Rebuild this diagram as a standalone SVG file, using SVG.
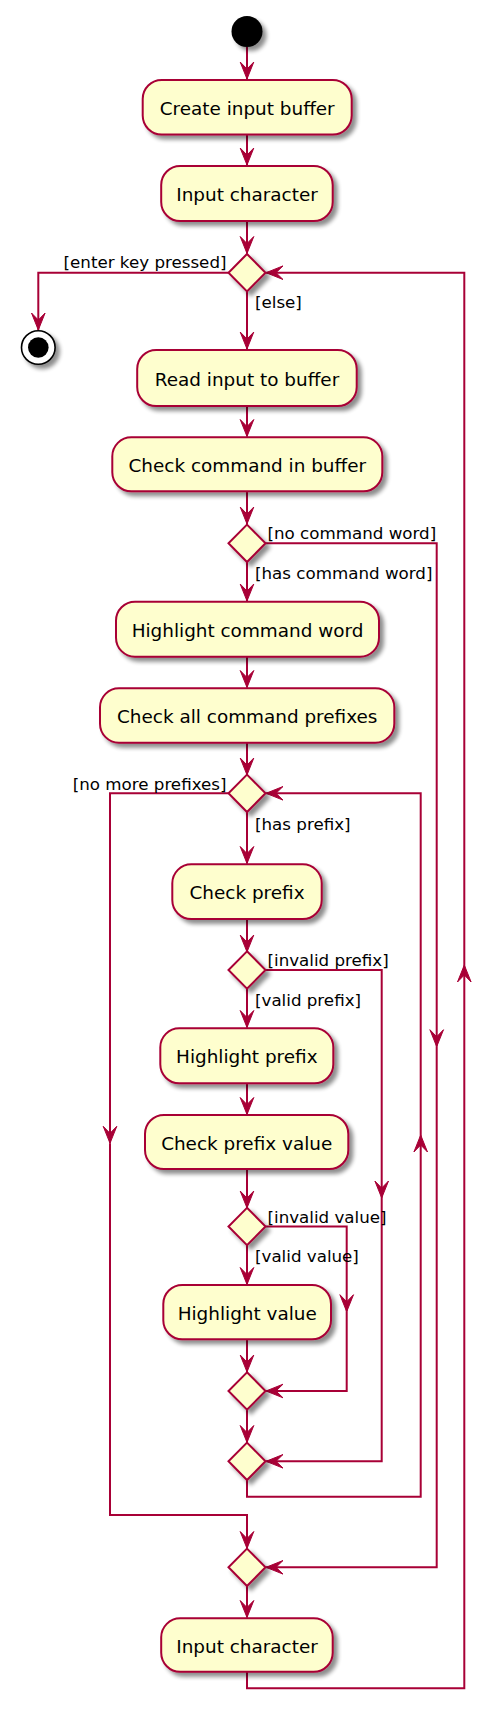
<svg xmlns="http://www.w3.org/2000/svg" width="504" height="1725" viewBox="0 0 504 1725">
<style>
.box{fill:#FEFECE;stroke:#A80036;stroke-width:2;filter:url(#sh)}
.dia{fill:#FEFECE;stroke:#A80036;stroke-width:2;filter:url(#sh)}
.t{font-family:"DejaVu Sans",sans-serif;font-size:18.4px;fill:#000;text-anchor:middle}
.l{font-family:"DejaVu Sans",sans-serif;font-size:16.7px;fill:#000}
.c{fill:none;stroke:#A80036;stroke-width:2}
.a{marker-end:url(#ah)}
</style>
<defs>
<filter id="sh" x="-30%" y="-30%" width="170%" height="170%">
<feGaussianBlur in="SourceAlpha" stdDeviation="2.2"/>
<feOffset dx="4" dy="4" result="b"/>
<feComponentTransfer><feFuncA type="linear" slope="0.45"/></feComponentTransfer>
<feMerge><feMergeNode/><feMergeNode in="SourceGraphic"/></feMerge>
</filter>
<marker id="ah" viewBox="-19 -9 21 18" refX="0" refY="0" markerWidth="21" markerHeight="18" markerUnits="userSpaceOnUse" orient="auto">
<path d="M0,0 L-17,-6.8 L-10,0 L-17,6.8 Z" fill="#A80036" stroke="#A80036" stroke-width="1"/>
</marker>
</defs>
<rect width="504" height="1725" fill="#FFFFFF"/>

<g id="connectors">
<path class="c a" d="M247,47 L247,79"/>
<path class="c a" d="M247,134.5 L247,165"/>
<path class="c a" d="M247,221 L247,253.5"/>
<path class="c a" d="M228.5,272.7 L38.3,272.7 L38.3,330"/>
<path class="c a" d="M247,291 L247,349"/>
<path class="c a" d="M247,406 L247,436.5"/>
<path class="c a" d="M247,491.5 L247,524"/>
<path class="c a" d="M265.5,543.3 L436.7,543.3 L436.7,1046.7"/>
<path class="c a" d="M436.7,1046.7 L436.7,1567.3 L266,1567.3"/>
<path class="c a" d="M247,562 L247,601"/>
<path class="c a" d="M247,657 L247,687.5"/>
<path class="c a" d="M247,743 L247,775"/>
<path class="c a" d="M228.5,793.3 L110,793.3 L110,1143.3"/>
<path class="c a" d="M110,1143.3 L110,1515 L247,1515 L247,1548.5"/>
<path class="c a" d="M247,812 L247,863.5"/>
<path class="c a" d="M247,919 L247,952"/>
<path class="c a" d="M265.5,970 L381.7,970 L381.7,1198"/>
<path class="c a" d="M381.7,1198 L381.7,1461.3 L266,1461.3"/>
<path class="c a" d="M247,988.5 L247,1027.5"/>
<path class="c a" d="M247,1083.5 L247,1114.5"/>
<path class="c a" d="M247,1169.5 L247,1208"/>
<path class="c a" d="M265.5,1226.5 L346.7,1226.5 L346.7,1311.7"/>
<path class="c a" d="M346.7,1311.7 L346.7,1391 L266,1391"/>
<path class="c a" d="M247,1245 L247,1284.5"/>
<path class="c a" d="M247,1339.5 L247,1372"/>
<path class="c a" d="M247,1410 L247,1442.5"/>
<path class="c a" d="M247,1480 L247,1496.7 L420.7,1496.7 L420.7,1135"/>
<path class="c a" d="M420.7,1135 L420.7,793.3 L266,793.3"/>
<path class="c a" d="M247,1586 L247,1617.5"/>
<path class="c a" d="M247,1672 L247,1688.3 L464.3,1688.3 L464.3,965"/>
<path class="c a" d="M464.3,965 L464.3,272.7 L266,272.7"/>
</g>

<g id="labels">
<text class="l" x="226.5" y="268" text-anchor="end">[enter key pressed]</text>
<text class="l" x="255" y="307.5">[else]</text>
<text class="l" x="267.5" y="539">[no command word]</text>
<text class="l" x="255" y="579">[has command word]</text>
<text class="l" x="226.5" y="789.5" text-anchor="end">[no more prefixes]</text>
<text class="l" x="255" y="829.5">[has prefix]</text>
<text class="l" x="267.5" y="966">[invalid prefix]</text>
<text class="l" x="255" y="1006">[valid prefix]</text>
<text class="l" x="267.5" y="1222.5">[invalid value]</text>
<text class="l" x="255" y="1262">[valid value]</text>
</g>

<g id="start"><circle cx="247" cy="31.5" r="15.5" fill="#000" filter="url(#sh)"/></g>
<g id="stop"><circle cx="38.3" cy="347.5" r="16.8" fill="#FFF" stroke="#000" stroke-width="1.6" filter="url(#sh)"/><circle cx="38.3" cy="347.5" r="10.3" fill="#000"/></g>

<g id="n1"><rect class="box" x="142.7" y="80" width="209" height="54.5" rx="19"/><text class="t" x="247.2" y="115">Create input buffer</text></g>
<g id="n2"><rect class="box" x="161.2" y="166" width="171.5" height="55" rx="19"/><text class="t" x="247" y="201">Input character</text></g>
<g id="d1"><path class="dia" d="M247,254 L265.5,272.7 L247,291.4 L228.5,272.7 Z"/></g>
<g id="n3"><rect class="box" x="137.2" y="350" width="219.5" height="56" rx="19"/><text class="t" x="247" y="386">Read input to buffer</text></g>
<g id="n4"><rect class="box" x="112.3" y="437.3" width="270" height="54" rx="19"/><text class="t" x="247.3" y="472">Check command in buffer</text></g>
<g id="d2"><path class="dia" d="M247,524.6 L265.5,543.3 L247,562 L228.5,543.3 Z"/></g>
<g id="n5"><rect class="box" x="116" y="601.7" width="263" height="55" rx="19"/><text class="t" x="247.5" y="637">Highlight command word</text></g>
<g id="n6"><rect class="box" x="100" y="688.3" width="294.3" height="54.4" rx="19"/><text class="t" x="247.2" y="723">Check all command prefixes</text></g>
<g id="d3"><path class="dia" d="M247,774.6 L265.5,793.3 L247,812 L228.5,793.3 Z"/></g>
<g id="n7"><rect class="box" x="172.3" y="864.3" width="149.4" height="54.7" rx="19"/><text class="t" x="247" y="899.3">Check prefix</text></g>
<g id="d4"><path class="dia" d="M247,951.3 L265.5,970 L247,988.7 L228.5,970 Z"/></g>
<g id="n8"><rect class="box" x="160.3" y="1028.3" width="173" height="55" rx="19"/><text class="t" x="246.8" y="1063.3">Highlight prefix</text></g>
<g id="n9"><rect class="box" x="145" y="1115" width="203.3" height="54" rx="19"/><text class="t" x="246.7" y="1149.5">Check prefix value</text></g>
<g id="d5"><path class="dia" d="M247,1207.8 L265.5,1226.5 L247,1245.2 L228.5,1226.5 Z"/></g>
<g id="n10"><rect class="box" x="163.3" y="1285" width="167.7" height="54.3" rx="19"/><text class="t" x="247.2" y="1319.5">Highlight value</text></g>
<g id="d6"><path class="dia" d="M247,1372.3 L265.5,1391 L247,1409.7 L228.5,1391 Z"/></g>
<g id="d7"><path class="dia" d="M247,1442.6 L265.5,1461.3 L247,1480 L228.5,1461.3 Z"/></g>
<g id="d8"><path class="dia" d="M247,1548.6 L265.5,1567.3 L247,1586 L228.5,1567.3 Z"/></g>
<g id="n11"><rect class="box" x="161.2" y="1618.3" width="171.5" height="53.5" rx="19"/><text class="t" x="247" y="1652.5">Input character</text></g>
</svg>
